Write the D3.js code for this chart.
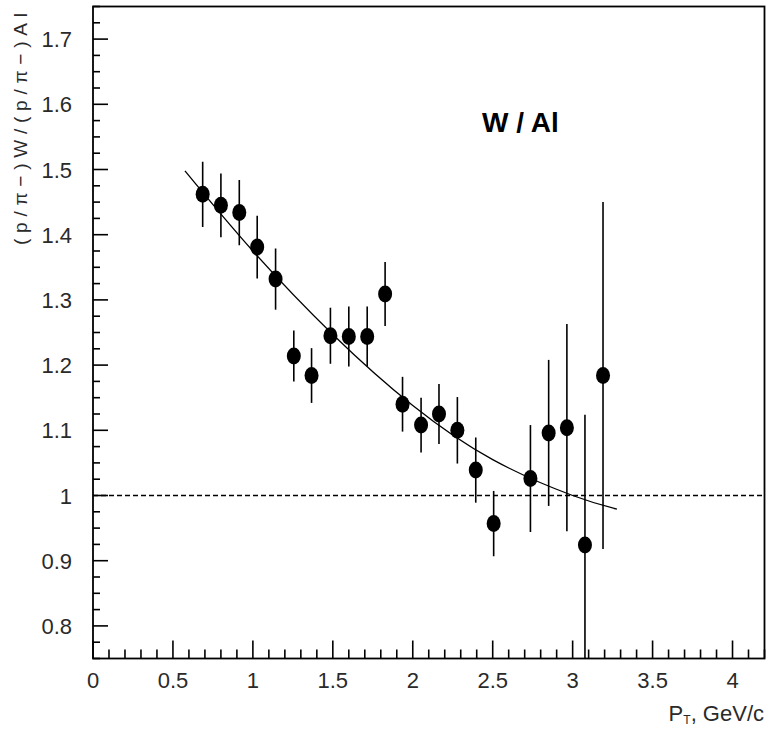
<!DOCTYPE html>
<html>
<head>
<meta charset="utf-8">
<script src="https://cdn.jsdelivr.net/npm/d3@7"></script>
<style>
  html, body { margin: 0; padding: 0; background: #fff; }
  svg { display: block; }
  text { font-family: "Liberation Sans", Arial, sans-serif; }
</style>
</head>
<body>
<svg id="chart" width="769" height="729"></svg>
<script>
// Transverse momentum of each bin, GeV/c
const pt = [0.686, 0.800, 0.915, 1.027, 1.142, 1.256, 1.367, 1.485, 1.600, 1.715, 1.827,
            1.936, 2.052, 2.164, 2.279, 2.394, 2.506, 2.736, 2.850, 2.964, 3.077, 3.190];
// Double ratio (p/π−)W / (p/π−)Al
const ratio = [1.462, 1.445, 1.434, 1.381, 1.332, 1.214, 1.184, 1.245, 1.244, 1.244, 1.309,
               1.140, 1.108, 1.125, 1.100, 1.039, 0.957, 1.026, 1.096, 1.104, 0.924, 1.184];
// Statistical errors
const ratioErr = [0.050, 0.049, 0.050, 0.048, 0.047, 0.039, 0.042, 0.043, 0.046, 0.046, 0.049,
                  0.042, 0.042, 0.046, 0.051, 0.050, 0.050, 0.082, 0.112, 0.159, 0.200, 0.266];
// Fit curve, sampled
const fitPt = [0.575, 1.0, 1.5, 2.0, 2.5, 3.0, 3.277];
const fitRatio = [1.498, 1.375, 1.247, 1.138, 1.055, 1.000, 0.979];
// Axis tick labels
const xTickValues = [0, 0.5, 1, 1.5, 2, 2.5, 3, 3.5, 4];
const yTickValues = [0.8, 0.9, 1.0, 1.1, 1.2, 1.3, 1.4, 1.5, 1.6, 1.7];
const refLevel = 1.0;

(function draw() {
  const svg = d3.select("#chart");
  const frameL = 93, frameR = 764.5, frameT = 6.5, frameB = 658.5;

  const x = d3.scaleLinear().domain([0, 4.2]).range([frameL, frameR]);
  const y = d3.scaleLinear().domain([0.75, 1.75]).range([frameB, frameT]);

  const labelColor = "#2a2a2a";

  svg.append("defs").append("clipPath").attr("id", "frameClip")
    .append("rect").attr("x", frameL).attr("y", frameT)
    .attr("width", frameR - frameL).attr("height", frameB - frameT);

  // Minor ticks
  const xMinor = d3.range(0, 43).map(i => i / 10)
    .filter(v => Math.abs(v * 2 - Math.round(v * 2)) > 1e-6);
  const yMinor = d3.range(0, 41).map(i => 0.75 + i * 0.025)
    .filter(v => Math.abs(v * 10 - Math.round(v * 10)) > 1e-6);

  const ticks = svg.append("g").attr("stroke", "#000").attr("stroke-width", 1.6);
  ticks.append("g").selectAll("line").data(xMinor).join("line")
    .attr("x1", d => x(d)).attr("x2", d => x(d))
    .attr("y1", frameB).attr("y2", frameB - 9);
  ticks.append("g").selectAll("line").data(xTickValues).join("line")
    .attr("x1", d => x(d)).attr("x2", d => x(d))
    .attr("y1", frameB).attr("y2", frameB - 18);
  ticks.append("g").selectAll("line").data(yMinor).join("line")
    .attr("x1", frameL).attr("x2", frameL + 7)
    .attr("y1", d => y(d)).attr("y2", d => y(d));
  ticks.append("g").selectAll("line").data(yTickValues).join("line")
    .attr("x1", frameL).attr("x2", frameL + 15)
    .attr("y1", d => y(d)).attr("y2", d => y(d));

  // Tick labels
  svg.append("g").selectAll("text").data(xTickValues).join("text")
    .attr("x", d => x(d)).attr("y", 688)
    .attr("text-anchor", "middle")
    .attr("font-size", 22).attr("fill", labelColor)
    .text(d => d3.format("")(d));
  svg.append("g").selectAll("text").data(yTickValues).join("text")
    .attr("x", 72).attr("y", d => y(d) + 8)
    .attr("text-anchor", "end")
    .attr("font-size", 22).attr("fill", labelColor)
    .text(d => d3.format("")(d));

  // Reference line at unity
  svg.append("line")
    .attr("x1", x(0)).attr("x2", x(4.2))
    .attr("y1", y(refLevel)).attr("y2", y(refLevel))
    .attr("stroke", "#000").attr("stroke-width", 1.6)
    .attr("stroke-dasharray", "5,3");

  const plot = svg.append("g").attr("clip-path", "url(#frameClip)");

  // Fit curve
  plot.append("path")
    .datum(fitPt.map((d, i) => [d, fitRatio[i]]))
    .attr("fill", "none").attr("stroke", "#000").attr("stroke-width", 1.3)
    .attr("d", d3.line().x(d => x(d[0])).y(d => y(d[1])).curve(d3.curveNatural));

  // Error bars
  plot.append("g").selectAll("line").data(pt).join("line")
    .attr("x1", d => x(d)).attr("x2", d => x(d))
    .attr("y1", (d, i) => y(ratio[i] - ratioErr[i]))
    .attr("y2", (d, i) => y(ratio[i] + ratioErr[i]))
    .attr("stroke", "#000").attr("stroke-width", 1.6);

  // Markers
  plot.append("g").selectAll("ellipse").data(pt).join("ellipse")
    .attr("cx", d => x(d)).attr("cy", (d, i) => y(ratio[i]))
    .attr("rx", 7).attr("ry", 8.5).attr("fill", "#000");

  // Frame
  svg.append("rect")
    .attr("x", frameL).attr("y", frameT)
    .attr("width", frameR - frameL).attr("height", frameB - frameT)
    .attr("fill", "none").attr("stroke", "#000").attr("stroke-width", 1.8);

  // Axis titles
  const xTitle = svg.append("text")
    .attr("x", 764).attr("y", 721).attr("text-anchor", "end")
    .attr("font-size", 22).attr("fill", labelColor);
  xTitle.append("tspan").text("P");
  xTitle.append("tspan").attr("font-size", 12).attr("dy", 3).text("T");
  xTitle.append("tspan").attr("dy", -3).text(", GeV/c");

  svg.append("text")
    .attr("transform", "translate(27,245) rotate(-90)")
    .attr("font-size", 19).attr("fill", labelColor)
    .attr("textLength", 232).attr("lengthAdjust", "spacing")
    .text("(p/π−)W/(p/π−)Al");

  // Panel label
  svg.append("text")
    .attr("x", 482).attr("y", 132)
    .attr("font-size", 28).attr("font-weight", "bold").attr("fill", "#000")
    .text("W / Al");
})();
</script>
</body>
</html>
